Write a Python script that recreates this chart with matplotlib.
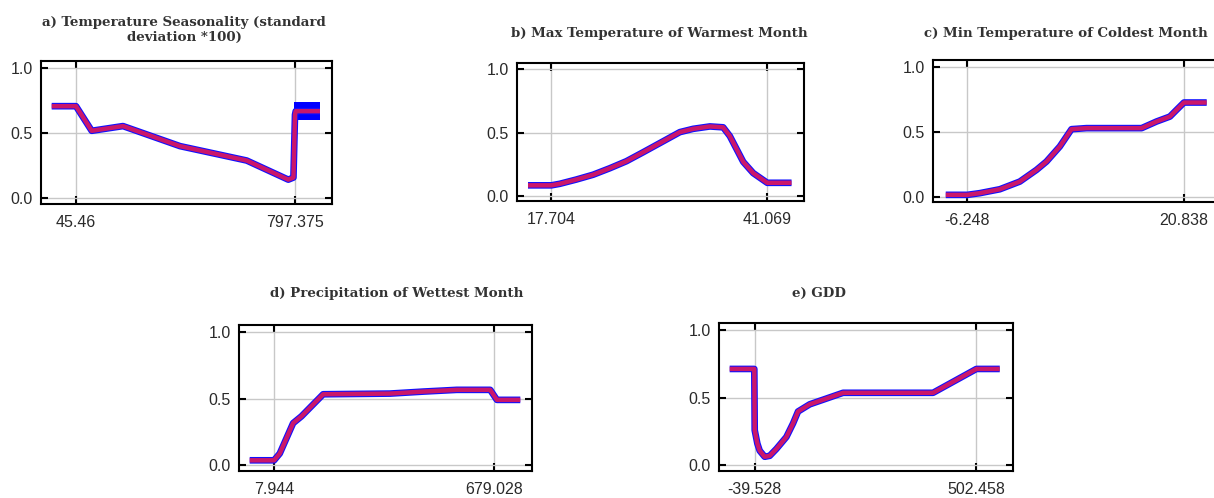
import numpy as np
import matplotlib.pyplot as plt

# response curves (x value, response)
a_x = [-38, 45.46, 99.4, 206.8, 402.5, 631.5, 774.3, 792, 797.4, 800, 883]
a_y = [0.705, 0.705, 0.517, 0.553, 0.40, 0.29, 0.144, 0.16, 0.64, 0.667, 0.667]
a_band_x = [795.0, 883]
a_band_lo = [0.60, 0.60]
a_band_hi = [0.735, 0.735]

b_x = [15.17, 17.70, 18.61, 20.41, 22.22, 24.02, 25.83, 27.64, 29.44, 31.61, 33.05,
       34.86, 36.30, 37.02, 38.47, 39.55, 41.07, 43.70]
b_y = [0.082, 0.082, 0.094, 0.128, 0.166, 0.217, 0.273, 0.344, 0.416, 0.503, 0.529,
       0.548, 0.541, 0.472, 0.268, 0.179, 0.102, 0.102]

c_x = [-8.96, -6.248, -4.70, -2.20, 0.30, 2.39, 3.64, 5.31, 6.77, 8.65, 15.54,
       17.41, 19.08, 19.92, 20.84, 23.68]
c_y = [0.013, 0.013, 0.026, 0.056, 0.115, 0.205, 0.269, 0.385, 0.518, 0.526, 0.526,
       0.577, 0.615, 0.667, 0.723, 0.723]

d_x = [-66.4, 7.94, 25.3, 66.0, 91.4, 157.6, 361.3, 463.1, 565.0, 666.8, 687.2, 758.5]
d_y = [0.038, 0.038, 0.089, 0.316, 0.367, 0.532, 0.537, 0.552, 0.565, 0.565, 0.49, 0.49]
d_band_x = [565.0, 666.8, 687.2]
d_band_lo = [0.55, 0.55, 0.49]
d_band_hi = [0.585, 0.585, 0.50]

e_x = [-100.7, -40.5, -39.5, -33.0, -27.3, -15.1, -2.85, 13.45, 37.9, 54.2, 66.4,
       95.0, 176.5, 396.5, 502.46, 559.5]
e_y = [0.711, 0.711, 0.259, 0.16, 0.108, 0.063, 0.070, 0.121, 0.209, 0.309, 0.397,
       0.45, 0.535, 0.535, 0.711, 0.711]

titles = ["a) Temperature Seasonality (standard\ndeviation *100)",
          "b) Max Temperature of Warmest Month",
          "c) Min Temperature of Coldest Month",
          "d) Precipitation of Wettest Month",
          "e) GDD"]
xtick_vals = [(45.46, 797.375), (17.704, 41.069), (-6.248, 20.838),
              (7.944, 679.028), (-39.528, 502.458)]
xtick_labels = [("45.46", "797.375"), ("17.704", "41.069"), ("-6.248", "20.838"),
                ("7.944", "679.028"), ("-39.528", "502.458")]

W, H = 1214, 498
fig = plt.figure(figsize=(W / 100, H / 100), dpi=100)

# axes boxes in pixels: left, right, top, bottom
boxes = [(41, 332, 61, 204), (517, 804, 63, 201), (933, 1221, 60, 202),
         (239, 532, 325, 471), (719, 1013, 323, 471)]
xlims = [(-74.7, 924.4), (13.98, 45.05), (-10.556, 25.47), (-98.97, 794.2), (-126.8, 591.9)]
title_pos = [(184, 30), (659, 33), (1066, 33), (397, 293), (819, 293)]

curves = [(a_x, a_y, a_band_x, a_band_lo, a_band_hi),
          (b_x, b_y, None, None, None),
          (c_x, c_y, None, None, None),
          (d_x, d_y, d_band_x, d_band_lo, d_band_hi),
          (e_x, e_y, None, None, None)]

for i in range(5):
    l, r, t, b = boxes[i]
    ax = fig.add_axes([l / W, 1 - b / H, (r - l) / W, (b - t) / H])
    x, y, bx, blo, bhi = curves[i]
    if bx is not None:
        ax.fill_between(bx, blo, bhi, color='#0000ff', lw=0, zorder=2)
    ax.plot(x, y, color='#1010ff', lw=4.8, solid_capstyle='butt', zorder=3)
    ax.plot(x, y, color='#e0185a', lw=3.2, alpha=0.9, solid_capstyle='butt', zorder=4)
    ax.set_xlim(*xlims[i])
    ax.set_ylim(-0.042, 1.05)
    ax.set_xticks(xtick_vals[i])
    ax.set_xticklabels(xtick_labels[i])
    ax.set_yticks([0.0, 0.5, 1.0])
    ax.set_yticklabels(["0.0", "0.5", "1.0"])
    ax.grid(True, color='#c8c8c8', lw=1)
    ax.set_axisbelow(True)
    for s in ax.spines.values():
        s.set_linewidth(1.5)
    ax.tick_params(axis='both', direction='in', length=5, width=1.5,
                   top=True, right=True, labelsize=11.5, labelcolor='#2a2a2a',
                   labelfontfamily='Liberation Sans')
    ax.tick_params(axis='x', length=6, pad=8)
    ax.tick_params(axis='y', pad=6)
    tx, ty = title_pos[i]
    fig.text(tx / W, 1 - ty / H, titles[i], ha='center', va='center',
             fontsize=9.6, fontweight='bold', family='DejaVu Serif',
             color='#333333', linespacing=1.15)

fig.savefig('out.png', dpi=100)
